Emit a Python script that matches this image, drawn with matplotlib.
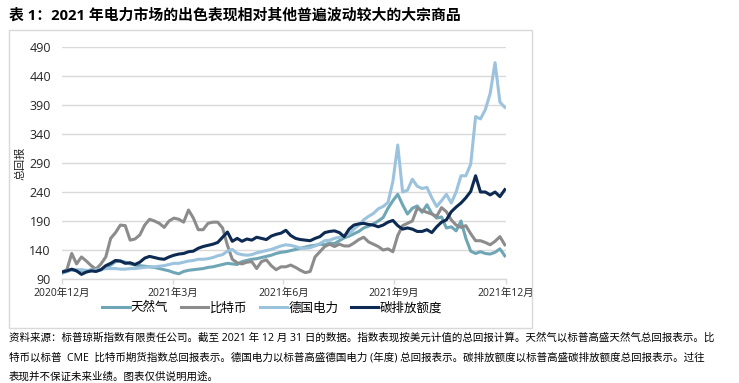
import matplotlib
matplotlib.use('Agg')
import matplotlib.pyplot as plt
import pandas as pd
from matplotlib.patches import Rectangle

plt.rcParams['font.family'] = ['Open Sans', 'Noto Sans CJK SC', 'DejaVu Sans']

# ---------------- data ----------------
dates = pd.date_range('2020-12-31', periods=92, freq='4D')

natural_gas = [100, 103, 106, 104, 105, 104, 106, 105, 106, 111, 114, 120, 121, 119, 116, 114,
               113, 112, 111, 110, 108, 106, 104, 101, 99, 103, 105, 106, 107, 108, 110, 111,
               113, 115, 117, 116, 115, 120, 122, 124, 125, 127, 129, 131, 134, 136, 137, 139,
               141, 143, 145, 147, 148, 150, 149, 152, 151, 156, 161, 164, 168, 172, 178, 181,
               185, 190, 196, 212, 225, 236, 218, 202, 212, 216, 205, 218, 203, 195, 197, 178,
               180, 173, 190, 160, 138, 134, 137, 134, 133, 136, 142, 130]

bitcoin = [102, 106, 134, 116, 128, 121, 113, 107, 116, 128, 160, 170, 183, 182, 157, 159,
           166, 183, 193, 190, 186, 179, 190, 195, 193, 188, 209, 195, 175, 175, 186, 188,
           188, 178, 148, 124, 118, 116, 119, 120, 108, 120, 123, 113, 106, 111, 111, 114,
           110, 105, 101, 103, 128, 137, 146, 150, 146, 150, 147, 147, 152, 158, 162, 154,
           150, 146, 140, 142, 137, 165, 182, 186, 190, 212, 208, 205, 202, 198, 213, 206,
           192, 183, 179, 182, 168, 156, 156, 153, 149, 155, 163, 149]

german_power = [100, 104, 105, 106, 106, 105, 104, 106, 106, 108, 108, 108, 107, 107, 108, 108,
                109, 110, 111, 111, 112, 113, 115, 117, 117, 119, 121, 122, 124, 124, 125, 127,
                130, 132, 138, 141, 134, 132, 131, 132, 135, 137, 139, 141, 144, 147, 149, 148,
                146, 143, 143, 144, 147, 151, 156, 157, 160, 162, 164, 168, 176, 183, 192, 198,
                203, 211, 215, 222, 258, 321, 240, 243, 262, 250, 246, 248, 230, 215, 225, 236,
                221, 240, 268, 268, 288, 370, 366, 382, 410, 463, 395, 386]

carbon = [102, 104, 107, 104, 98, 102, 104, 103, 106, 113, 117, 122, 121, 117, 118, 115,
          119, 126, 129, 127, 125, 124, 128, 131, 133, 134, 137, 138, 143, 146, 148, 150,
          153, 162, 171, 155, 160, 155, 159, 157, 162, 160, 158, 164, 167, 169, 174, 165,
          160, 158, 157, 156, 160, 163, 170, 172, 173, 170, 163, 176, 183, 185, 186, 184,
          183, 180, 183, 188, 191, 182, 176, 178, 176, 172, 172, 175, 170, 180, 188, 192,
          206, 214, 221, 230, 241, 268, 240, 240, 235, 240, 232, 244]

series_names = ['天然气', '比特币', '德国电力', '碳排放额度']
series_colors = ['#6fa6b6', '#8c8c8c', '#9cc3de', '#0c2a52']

tick_dates = ['2020-12-31', '2021-04-01', '2021-07-01', '2021-09-30', '2021-12-31']
tick_labels = ['2020年12月', '2021年3月', '2021年6月', '2021年9月', '2021年12月']
y_ticks = [90, 140, 190, 240, 290, 340, 390, 440, 490]

title = '表 1：2021 年电力市场的出色表现相对其他普遍波动较大的大宗商品'
y_label = '总回报'
source_lines = [
    '资料来源：标普琼斯指数有限责任公司。截至 2021 年 12 月 31 日的数据。指数表现按美元计值的总回报计算。天然气以标普高盛天然气总回报表示。比',
    '特币以标普  CME  比特币期货指数总回报表示。德国电力以标普高盛德国电力 (年度) 总回报表示。碳排放额度以标普高盛碳排放额度总回报表示。过往',
    '表现并不保证未来业绩。图表仅供说明用途。',
]

# ---------------- figure ----------------
W, H = 739, 383
fig = plt.figure(figsize=(W / 100, H / 100), dpi=100)

# outer chart box
fig.patches.append(Rectangle((9 / W, 1 - 328 / H), (532 - 9) / W, (328 - 30) / H,
                             transform=fig.transFigure, fill=False,
                             edgecolor='#d9d9d9', linewidth=1.0))

ax = fig.add_axes([62 / W, 1 - 279 / H, 444 / W, 232 / H])

all_series = [natural_gas, bitcoin, german_power, carbon]
handles = []
for vals, name, col in zip(all_series, series_names, series_colors):
    h, = ax.plot(dates, vals, color=col, linewidth=2.2, label=name, solid_joinstyle='round')
    handles.append(h)

ax.set_xlim(pd.Timestamp('2020-12-31'), pd.Timestamp('2021-12-31'))
ax.set_ylim(90, 490)
ax.set_yticks(y_ticks)
ax.set_xticks(pd.to_datetime(tick_dates))
ax.set_xticklabels(tick_labels)

ax.grid(axis='y', color='#d9d9d9', linewidth=1.0)
ax.set_axisbelow(True)
for s in ['top', 'right', 'left']:
    ax.spines[s].set_visible(False)
ax.spines['bottom'].set_color('#d9d9d9')
ax.spines['bottom'].set_linewidth(1.0)

ax.tick_params(axis='y', length=0, pad=8, labelsize=9, labelcolor='#262626')
ax.tick_params(axis='x', length=3.6, width=1.0, color='#d9d9d9', pad=3.0,
               labelsize=7.5, labelcolor='#262626')

fig.text(21 / W, 1 - 163 / H, y_label, rotation=90, ha='center', va='center',
         fontsize=8, color='#262626')

leg = fig.legend(handles=handles, labels=series_names, loc='center', ncol=4,
                 bbox_to_anchor=(272 / W, 1 - 308 / H), frameon=False, fontsize=9,
                 handlelength=2.2, handletextpad=0.1, columnspacing=1.0,
                 borderpad=0.1)

fig.text(9 / W, 1 - 15 / H, title, ha='left', va='center', fontsize=10.7,
         fontweight='bold', color='#000000')

for i, line in enumerate(source_lines):
    fig.text(9 / W, 1 - (338 + i * 19.5) / H, line, ha='left', va='center',
             fontsize=7.55, color='#000000')

fig.savefig('out.png', dpi=100)
